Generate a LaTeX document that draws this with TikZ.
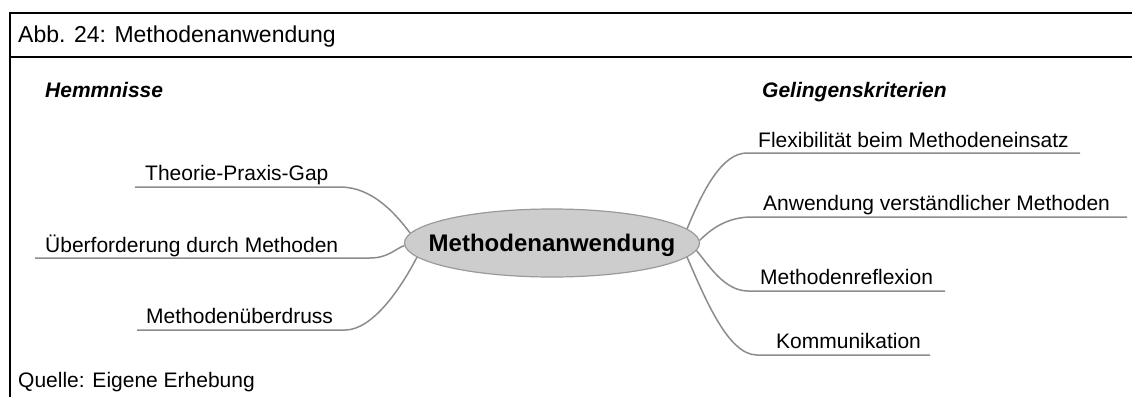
\documentclass[tikz,border=0pt]{standalone}
\usepackage{fontspec}
\setmainfont{Liberation Sans}
\usetikzlibrary{shapes.geometric}
\definecolor{branchgray}{HTML}{8C8C8C}
\definecolor{ellfill}{HTML}{CDCDCD}
\definecolor{ellline}{HTML}{9A9A9A}
\tikzset{
  frameline/.style={line width=2pt,black},
  branch/.style={line width=1.5pt,branchgray},
  lbl/.style={anchor=base west,inner sep=0pt,font=\fontsize{21}{25}\selectfont},
  head/.style={anchor=base west,inner sep=0pt,font=\fontsize{21}{25}\selectfont\bfseries\itshape},
  ttl/.style={anchor=base west,inner sep=0pt,font=\fontsize{23}{27}\selectfont},
  centershape/.style={ellipse,draw=ellline,fill=ellfill,line width=1.2pt,minimum width=295pt,minimum height=68pt,inner sep=0pt},
  centertext/.style={inner sep=0pt,text height=17pt,text depth=0pt,font=\fontsize{24}{28}\selectfont\bfseries}
}
\begin{document}
\begin{tikzpicture}[x=1pt,y=-1pt]
\useasboundingbox (0,0) rectangle (1132,397);
% frame
\draw[frameline] (1132,13) -- (10,13) -- (10,397);
\draw[frameline] (10,57) -- (1132,57);
\node[ttl] (title) at (18,42) {Abb. 24: Methodenanwendung};
\node[head] (hemm) at (45,97) {Hemmnisse};
\node[head] (gel) at (762,97) {Gelingenskriterien};
\node[lbl] (src) at (18,387) {Quelle: Eigene Erhebung};
% center
\node[centershape] (c) at (552,243) {};
\node[centertext] (ctxt) at (c.center) {Methodenanwendung};
% left labels
\node[lbl] (l1) at (145,180) {Theorie-Praxis-Gap};
\node[lbl] (l2) at (45,252) {Überforderung durch Methoden};
\node[lbl] (l3) at (146,323) {Methodenüberdruss};
\coordinate (l1a) at (135,187); \coordinate (l1b) at (340,187);
\coordinate (l2a) at (35,258);  \coordinate (l2b) at (370,258);
\coordinate (l3a) at (137,330); \coordinate (l3b) at (345,330);
% right labels
\node[lbl] (r1) at (758,147) {Flexibilität beim Methodeneinsatz};
\node[lbl] (r2) at (763,210) {Anwendung verständlicher Methoden};
\node[lbl] (r3) at (760,284) {Methodenreflexion};
\node[lbl] (r4) at (776,348) {Kommunikation};
\coordinate (r1a) at (1080,153); \coordinate (r1b) at (747,153);
\coordinate (r2a) at (1127,217); \coordinate (r2b) at (752,217);
\coordinate (r3a) at (945,291);  \coordinate (r3b) at (748,291);
\coordinate (r4a) at (930,355);  \coordinate (r4b) at (757,355);
% branches
\draw[branch] (l1a) -- (l1b) .. controls (372,187) and (395,213) .. (c.176);
\draw[branch] (l2a) -- (l2b) .. controls (388,258) and (395,249) .. (c.181.5);
\draw[branch] (l3a) -- (l3b) .. controls (372,330) and (400,290) .. (c.186.2);
\draw[branch] (r1a) -- (r1b) .. controls (722,153) and (703,190) .. (c.6.5);
\draw[branch] (r2a) -- (r2b) .. controls (728,217) and (712,228) .. (c.1);
\draw[branch] (r3a) -- (r3b) .. controls (724,291) and (708,264) .. (c.-3);
\draw[branch] (r4a) -- (r4b) .. controls (728,355) and (705,298) .. (c.-6.3);
\end{tikzpicture}
\end{document}
